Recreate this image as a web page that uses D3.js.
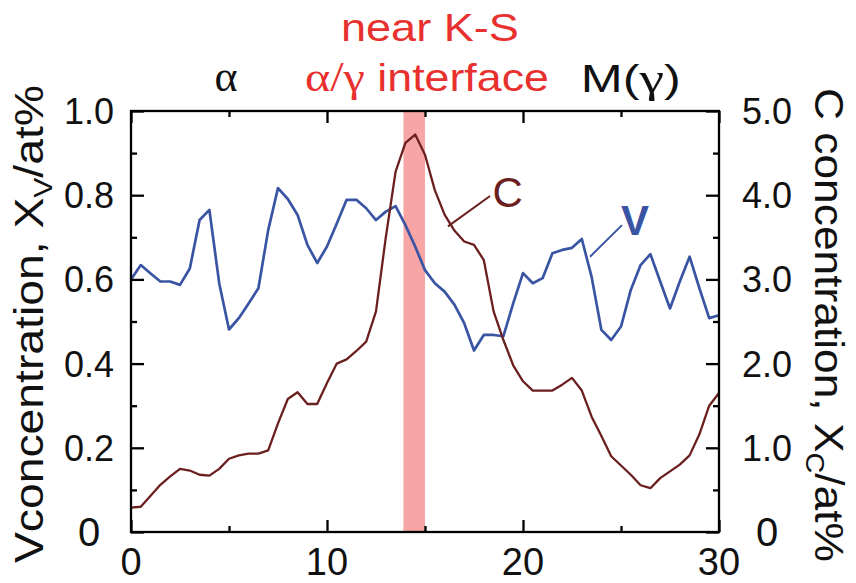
<!DOCTYPE html>
<html><head><meta charset="utf-8">
<script src="https://cdn.jsdelivr.net/npm/d3@7/dist/d3.min.js"></script>
<style>
html,body{margin:0;padding:0;background:#fff;}
svg{display:block;font-family:"Liberation Sans",Arial,sans-serif;}
</style></head>
<body>
<svg id="chart" width="856" height="583"></svg>
<script>
// ---- data ----
const distance = [0,0.5,1,1.5,2,2.5,3,3.5,4,4.5,5,5.5,6,6.5,7,7.5,8,8.5,9,9.5,10,10.5,11,11.5,12,12.5,13,13.5,14,14.5,15,15.5,16,16.5,17,17.5,18,18.5,19,19.5,20,20.5,21,21.5,22,22.5,23,23.5,24,24.5,25,25.5,26,26.5,27,27.5,28,28.5,29,29.5,30];
const vConc = [0.600,0.634,0.614,0.595,0.595,0.587,0.626,0.741,0.765,0.591,0.481,0.508,0.543,0.579,0.717,0.817,0.791,0.753,0.682,0.639,0.678,0.733,0.789,0.789,0.769,0.741,0.761,0.774,0.729,0.678,0.622,0.591,0.571,0.540,0.496,0.431,0.468,0.468,0.465,0.543,0.615,0.591,0.603,0.662,0.670,0.675,0.696,0.606,0.480,0.456,0.488,0.575,0.634,0.660,0.595,0.531,0.595,0.654,0.579,0.508,0.515];
const cConc = [0.29,0.30,0.43,0.56,0.66,0.75,0.73,0.68,0.67,0.75,0.87,0.91,0.93,0.93,0.97,1.29,1.58,1.66,1.52,1.52,1.77,2.00,2.05,2.15,2.26,2.62,3.50,4.28,4.62,4.72,4.48,4.06,3.77,3.58,3.45,3.41,3.23,2.62,2.28,1.98,1.79,1.68,1.68,1.68,1.75,1.83,1.68,1.37,1.14,0.90,0.79,0.68,0.555,0.52,0.64,0.72,0.80,0.91,1.16,1.50,1.65];
const interfaceBand = [13.9, 15.0];
const xMajorTicks = [0,10,20,30];
const xMinorTicks = [5,15,25];
const vMajorTicks = [0,0.2,0.4,0.6,0.8,1.0];
const vMinorTicks = [0.1,0.3,0.5,0.7,0.9];
const vTickLabels = ["0","0.2","0.4","0.6","0.8","1.0"];
const cMajorTicks = [0,1,2,3,4,5];
const cMinorTicks = [0.5,1.5,2.5,3.5,4.5];
const cTickLabels = ["0","1.0","2.0","3.0","4.0","5.0"];
const xTickLabels = ["0","10","20","30"];

// ---- layout ----
const svg = d3.select("#chart");
const L = 131, R = 719, T = 111, B = 532;
const x = d3.scaleLinear().domain([0,30]).range([L,R]);
const yV = d3.scaleLinear().domain([0,1]).range([B,T]);
const yC = d3.scaleLinear().domain([0,5]).range([B,T]);

const RED = "#e8302e", BLUE = "#3a54a4", BROWN = "#6b1f1f";
const SERIF = "'Liberation Serif','Times New Roman',serif";

// interface band
svg.append("rect")
  .attr("x", x(interfaceBand[0])).attr("y", T)
  .attr("width", x(interfaceBand[1]) - x(interfaceBand[0]))
  .attr("height", B - T)
  .attr("fill", "#f7a5a5");

// lines
const lineV = d3.line().x((d,i)=>x(distance[i])).y(d=>yV(d));
const lineC = d3.line().x((d,i)=>x(distance[i])).y(d=>yC(d));
svg.append("path").datum(vConc).attr("d", lineV)
  .attr("fill","none").attr("stroke",BLUE).attr("stroke-width",2.7).attr("stroke-linejoin","round");
svg.append("path").datum(cConc).attr("d", lineC)
  .attr("fill","none").attr("stroke",BROWN).attr("stroke-width",2.3).attr("stroke-linejoin","round");

// axes (inward ticks)
function styleAxis(g){
  g.selectAll(".domain").remove();
  g.selectAll(".tick line").attr("stroke","#000").attr("stroke-width",2.3);
}
const axG = svg.append("g");
axG.append("g").attr("transform",`translate(0,${B})`)
  .call(d3.axisBottom(x).tickValues(xMajorTicks).tickSize(-12).tickFormat("")).call(styleAxis);
axG.append("g").attr("transform",`translate(0,${B})`)
  .call(d3.axisBottom(x).tickValues(xMinorTicks).tickSize(-6).tickFormat("")).call(styleAxis);
axG.append("g").attr("transform",`translate(0,${T})`)
  .call(d3.axisTop(x).tickValues(xMajorTicks).tickSize(-12).tickFormat("")).call(styleAxis);
axG.append("g").attr("transform",`translate(0,${T})`)
  .call(d3.axisTop(x).tickValues(xMinorTicks).tickSize(-6).tickFormat("")).call(styleAxis);
axG.append("g").attr("transform",`translate(${L},0)`)
  .call(d3.axisLeft(yV).tickValues(vMajorTicks).tickSize(-13).tickFormat("")).call(styleAxis);
axG.append("g").attr("transform",`translate(${L},0)`)
  .call(d3.axisLeft(yV).tickValues(vMinorTicks).tickSize(-6).tickFormat("")).call(styleAxis);
axG.append("g").attr("transform",`translate(${R},0)`)
  .call(d3.axisRight(yC).tickValues(cMajorTicks).tickSize(-13).tickFormat("")).call(styleAxis);
axG.append("g").attr("transform",`translate(${R},0)`)
  .call(d3.axisRight(yC).tickValues(cMinorTicks).tickSize(-6).tickFormat("")).call(styleAxis);
svg.append("rect").attr("x",L).attr("y",T).attr("width",R-L).attr("height",B-T)
  .attr("fill","none").attr("stroke","#000").attr("stroke-width",2.3);

// tick labels
svg.append("g").selectAll("text").data(vMajorTicks).join("text")
  .attr("x", 89).attr("y", d=>yV(d)).attr("dy","0.36em")
  .attr("text-anchor","middle").attr("font-size", (d,i)=> i===0 ? 40 : 36)
  .attr("fill","#111").text((d,i)=>vTickLabels[i]);
svg.append("g").selectAll("text").data(cMajorTicks).join("text")
  .attr("x", 767).attr("y", d=>yC(d)).attr("dy","0.36em")
  .attr("text-anchor","middle").attr("font-size", (d,i)=> i===0 ? 40 : 36)
  .attr("fill","#111").text((d,i)=>cTickLabels[i]);
svg.append("g").selectAll("text").data(xMajorTicks).join("text")
  .attr("x", d=>x(d)).attr("y", 575)
  .attr("text-anchor","middle").attr("font-size", 38)
  .attr("fill","#111").text((d,i)=>xTickLabels[i]);

// axis titles
const lt = svg.append("text").attr("transform","translate(43,324) rotate(-90)")
  .attr("text-anchor","middle").attr("font-size",40).attr("fill","#111")
  .attr("textLength",478).attr("lengthAdjust","spacingAndGlyphs");
lt.append("tspan").text("Vconcentration, X");
lt.append("tspan").attr("font-size",26).attr("dy",9).text("V");
lt.append("tspan").attr("dy",-9).text("/at%");

const rt = svg.append("text").attr("transform","translate(815,325) rotate(90)")
  .attr("text-anchor","middle").attr("font-size",40).attr("fill","#111")
  .attr("textLength",474).attr("lengthAdjust","spacingAndGlyphs");
rt.append("tspan").text("C concentration, X");
rt.append("tspan").attr("font-size",26).attr("dy",9).text("C");
rt.append("tspan").attr("dy",-9).text("/at%");

// top annotations
svg.append("text").attr("x", x(15.25)).attr("y", 41).attr("text-anchor","middle")
  .attr("font-size",39).attr("fill",RED)
  .attr("textLength",178).attr("lengthAdjust","spacingAndGlyphs").text("near K-S");
const ai = svg.append("text").attr("x", x(15.1)).attr("y", 91).attr("text-anchor","middle")
  .attr("font-size",39).attr("fill",RED)
  .attr("textLength",244).attr("lengthAdjust","spacingAndGlyphs");
ai.append("tspan").attr("font-family",SERIF).attr("font-size",42).text("α/γ");
ai.append("tspan").text(" interface");
svg.append("text").attr("x", x(4.85)).attr("y", 91).attr("text-anchor","middle")
  .attr("font-size",44).attr("fill","#111")
  .attr("font-family",SERIF).text("α");
const mg = svg.append("text").attr("x", x(25.5)).attr("y", 92).attr("text-anchor","middle")
  .attr("font-size",38).attr("fill","#111")
  .attr("textLength",100).attr("lengthAdjust","spacingAndGlyphs");
mg.append("tspan").text("M(");
mg.append("tspan").attr("font-family",SERIF).attr("font-size",42).text("γ");
mg.append("tspan").text(")");

// series labels with leader lines
const cLabel = {x:18.45, c:3.86, from:[16.17,3.63], to:[18.32,3.99]};
const vLabel = {x:25.0, v:0.705, from:[23.42,0.654], to:[25.05,0.729]};
svg.append("line").attr("x1",x(cLabel.from[0])).attr("y1",yC(cLabel.from[1]))
  .attr("x2",x(cLabel.to[0])).attr("y2",yC(cLabel.to[1])).attr("stroke",BROWN).attr("stroke-width",2);
svg.append("text").attr("x",x(cLabel.x)).attr("y",yC(cLabel.c)).attr("font-size",42)
  .attr("fill",BROWN).text("C");
svg.append("line").attr("x1",x(vLabel.from[0])).attr("y1",yV(vLabel.from[1]))
  .attr("x2",x(vLabel.to[0])).attr("y2",yV(vLabel.to[1])).attr("stroke",BLUE).attr("stroke-width",2);
svg.append("text").attr("x",x(vLabel.x)).attr("y",yV(vLabel.v)).attr("font-size",42)
  .attr("font-weight","bold").attr("fill",BLUE).text("V");
</script>
</body></html>
